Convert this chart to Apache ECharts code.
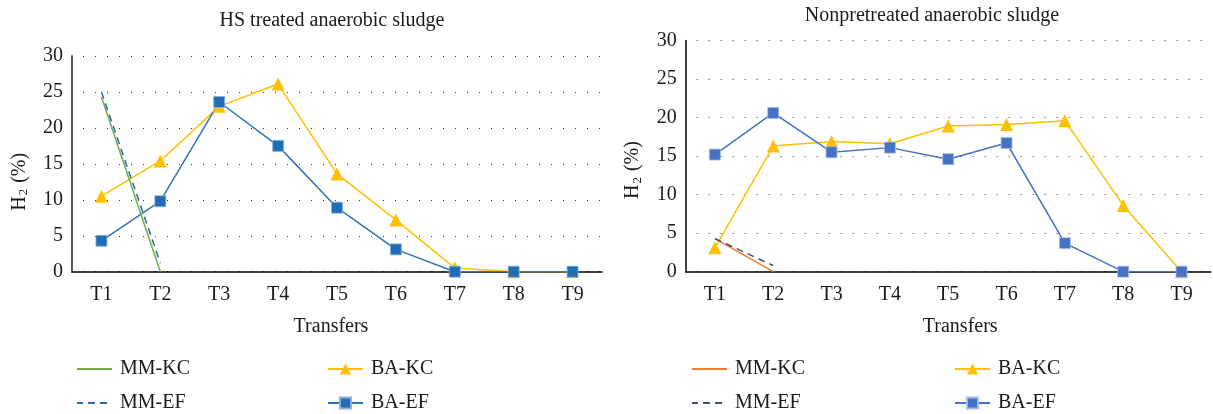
<!DOCTYPE html>
<html>
<head>
<meta charset="utf-8">
<script src="https://cdn.jsdelivr.net/npm/echarts@6/dist/echarts.min.js"></script>
<style>
html,body{margin:0;padding:0;background:#fff;}
#c{width:1213px;height:414px;}
</style>
</head>
<body>
<div id="c"></div>
<script>
// ---- data ----
const categories = ['T1','T2','T3','T4','T5','T6','T7','T8','T9'];
const leftTitle = 'HS treated anaerobic sludge';
const rightTitle = 'Nonpretreated anaerobic sludge';
const xName = 'Transfers';
const seriesNames = ['MM-KC','MM-EF','BA-KC','BA-EF'];

// HS treated anaerobic sludge
const hsMMKC = [24.3, 0, null, null, null, null, null, null, null];
const hsMMEF = [25.0, 1.2, null, null, null, null, null, null, null];
const hsBAKC = [10.5, 15.4, 23.0, 26.1, 13.6, 7.2, 0.5, 0, 0];
const hsBAEF = [4.3, 9.8, 23.6, 17.5, 8.9, 3.1, 0, 0, 0];

// Nonpretreated anaerobic sludge
const npMMKC = [4.3, 0, null, null, null, null, null, null, null];
const npMMEF = [4.3, 0.8, null, null, null, null, null, null, null];
const npBAKC = [3.1, 16.3, 16.9, 16.6, 18.9, 19.1, 19.6, 8.6, 0];
const npBAEF = [15.2, 20.6, 15.5, 16.1, 14.6, 16.7, 3.7, 0, 0];

// ---- chart ----
const FONT = '"Liberation Serif", "DejaVu Serif", serif';
const chart = echarts.init(document.getElementById('c'), null, {renderer: 'canvas'});

function xAxisCfg(gridIndex, namePad) {
  return {
    type: 'category', gridIndex, data: categories, boundaryGap: true,
    axisLine: {lineStyle: {color: '#000', width: 1.5}},
    axisTick: {show: false},
    axisLabel: {color: '#1a1a1a', fontFamily: FONT, fontSize: 20, margin: 13},
    name: xName, nameLocation: 'middle', nameGap: 45,
    nameTextStyle: {color: '#1a1a1a', fontFamily: FONT, fontSize: 20, padding: namePad}
  };
}
function yAxisCfg(gridIndex, axisColor, axisWidth, namePad) {
  return {
    type: 'value', gridIndex, min: 0, max: 30, interval: 5,
    axisLine: {show: true, lineStyle: {color: axisColor, width: axisWidth}},
    axisTick: {show: false},
    axisLabel: {color: '#1a1a1a', fontFamily: FONT, fontSize: 20, margin: 9},
    splitLine: {show: true, lineStyle: {color: '#333', width: 1, type: [1, 11], dashOffset: 1}},
    name: '{a|H}{s|2}{a| (%)}', nameLocation: 'middle', nameGap: 42,
    nameTextStyle: {
      padding: namePad,
      rich: {
        a: {fontFamily: FONT, fontSize: 20, color: '#1a1a1a'},
        s: {fontFamily: FONT, fontSize: 13, color: '#1a1a1a', padding: [8, 1, 0, 1]}
      }
    }
  };
}
function lineSeries(name, data, xi, color, opts) {
  return Object.assign({
    name, type: 'line', data, xAxisIndex: xi, yAxisIndex: xi,
    connectNulls: false, animation: false,
    lineStyle: {color, width: 1.5},
    itemStyle: {color},
    symbol: 'none'
  }, opts || {});
}

const legendText = {fontFamily: FONT, fontSize: 20, color: '#1a1a1a', lineHeight: 20, padding: [0, 0, 0, 3]};
function legendCfg(left, top, name, lineOnly) {
  return {
    left, top, orient: 'horizontal', itemWidth: 35, itemHeight: 14,
    data: [lineOnly ? {name, itemStyle: {opacity: 0}} : name],
    textStyle: legendText, selectedMode: false
  };
}

const R = ' '; // suffix to keep right-chart series distinct for legends
const row1 = 354, row2 = 388;

chart.setOption({
  backgroundColor: '#fff',
  animation: false,
  title: [
    {text: leftTitle, left: 327, top: 6, textAlign: 'center',
     textStyle: {fontFamily: FONT, fontSize: 20, fontWeight: 'normal', color: '#1a1a1a'}},
    {text: rightTitle, left: 927, top: 1, textAlign: 'center',
     textStyle: {fontFamily: FONT, fontSize: 20, fontWeight: 'normal', color: '#1a1a1a'}}
  ],
  grid: [
    {left: 72, top: 56, width: 530, height: 215.7, containLabel: false},
    {left: 685.7, top: 40.5, width: 525, height: 231.2, containLabel: false}
  ],
  xAxis: [xAxisCfg(0, [0, 12, 0, 0]), xAxisCfg(1, [0, 0, 0, 24])],
  yAxis: [yAxisCfg(0, '#595959', 2, [0, 36, 0, 0]), yAxisCfg(1, '#000', 1.5, [0, 28, 0, 0])],
  legend: [
    legendCfg(71, row1, seriesNames[0], true),
    legendCfg(71, row2, seriesNames[1], true),
    legendCfg(322, row1, seriesNames[2], false),
    legendCfg(322, row2, seriesNames[3], false),
    legendCfg(686, row1, seriesNames[0] + R, true),
    legendCfg(686, row2, seriesNames[1] + R, true),
    legendCfg(949, row1, seriesNames[2] + R, false),
    legendCfg(949, row2, seriesNames[3] + R, false)
  ],
  series: [
    lineSeries(seriesNames[2], hsBAKC, 0, '#FFC000', {symbol: 'triangle', symbolSize: 13, showSymbol: true}),
    lineSeries(seriesNames[3], hsBAEF, 0, '#1F6DB5', {symbol: 'rect', symbolSize: 11, showSymbol: true,
      lineStyle: {color: '#2E75B6', width: 1.5}, itemStyle: {color: '#1F6DB5', borderColor: '#8DB3DE', borderWidth: 0.8}}),
    lineSeries(seriesNames[0], hsMMKC, 0, '#70AD47'),
    lineSeries(seriesNames[1], hsMMEF, 0, '#2E64A8', {lineStyle: {color: '#2E64A8', width: 1.5, type: [7, 5]}}),

    lineSeries(seriesNames[2] + R, npBAKC, 1, '#FFC000', {symbol: 'triangle', symbolSize: 13, showSymbol: true}),
    lineSeries(seriesNames[3] + R, npBAEF, 1, '#4472C4', {symbol: 'rect', symbolSize: 11, showSymbol: true,
      lineStyle: {color: '#4472C4', width: 1.5}, itemStyle: {color: '#4472C4', borderColor: '#A9BEE6', borderWidth: 0.8}}),
    lineSeries(seriesNames[0] + R, npMMKC, 1, '#ED7D31'),
    lineSeries(seriesNames[1] + R, npMMEF, 1, '#44546A', {lineStyle: {color: '#44546A', width: 1.5, type: [7, 5]}})
  ]
});
</script>
</body>
</html>
